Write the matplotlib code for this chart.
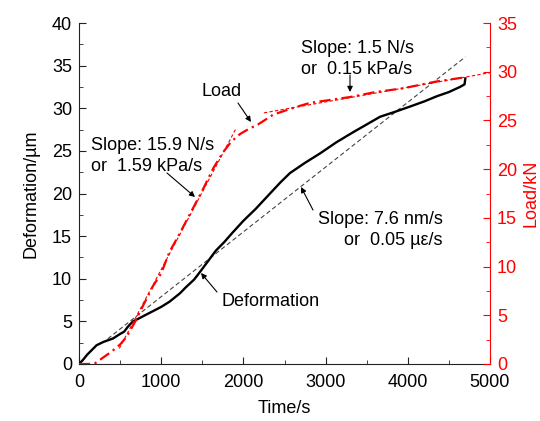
import matplotlib
matplotlib.use("Agg")
import matplotlib.pyplot as plt
import numpy as np
from matplotlib.ticker import MultipleLocator

plt.rcParams['font.family'] = ['Liberation Sans', 'DejaVu Sans']
plt.rcParams['font.size'] = 13

# Deformation (µm) vs time (s)
def_t = [0, 50, 100, 214, 300, 415, 496, 550, 597, 657, 720, 819, 900, 1000, 1100,
         1229, 1300, 1400, 1472, 1565, 1665, 1767, 1867, 2000, 2150, 2324, 2450,
         2567, 2750, 2932, 3130, 3337, 3500, 3662, 3850, 4027, 4200, 4351, 4500,
         4635, 4690, 4700]
def_v = [0, 0.5, 1.1, 2.2, 2.6, 3.0, 3.5, 3.8, 4.4, 5.0, 5.3, 5.8, 6.2, 6.7, 7.3,
         8.3, 9.0, 9.9, 10.8, 12.0, 13.3, 14.3, 15.4, 16.8, 18.2, 20.0, 21.3,
         22.4, 23.6, 24.7, 26.0, 27.2, 28.1, 29.0, 29.6, 30.2, 30.8, 31.4, 31.9,
         32.5, 32.8, 33.5]

# Load (kN) vs time (s)
load_t = [0, 120, 200, 300, 400, 500, 580, 620, 680, 780, 900, 1000, 1100, 1200,
          1300, 1400, 1500, 1634, 1750, 1850, 1958, 2080, 2162, 2364, 2648, 2810,
          3297, 3600, 3945, 4351, 4675]
load_v = [0, 0, 0.1, 0.7, 1.3, 2.0, 2.8, 3.4, 4.3, 6.0, 8.0, 9.3, 11.5, 13.0,
          14.6, 16.2, 17.8, 20.1, 21.7, 22.8, 23.6, 24.2, 24.5, 25.6, 26.4, 26.8,
          27.4, 27.9, 28.3, 29.0, 29.4]

# Linear fits
def_fit_t = [350, 4700]
def_fit_slope, def_fit_b = 0.0076, 0.3
load_fit1_t = [490, 1910]
load_fit1_slope, load_fit1_b = 0.0159, -6.2
load_fit2_t = [2250, 5000]
load_fit2_slope, load_fit2_b = 0.0015, 22.4

fig = plt.figure(figsize=(5.4, 4.21), dpi=100)
ax = fig.add_axes([79/540, 1-364/421, (490-79)/540, (364-23)/421])
ax2 = ax.twinx()

ax.plot(def_t, def_v, color='black', lw=1.7, zorder=3)
ft = np.array(def_fit_t)
ax.plot(ft, def_fit_slope*ft + def_fit_b, color='#444444', lw=0.8, dashes=(4, 2.5), zorder=2)

ax2.plot(load_t, load_v, color='red', lw=1.6, dashes=(5, 2, 1, 2), zorder=3)
f1 = np.array(load_fit1_t)
ax2.plot(f1, load_fit1_slope*f1 + load_fit1_b, color='red', lw=0.8, dashes=(3, 2))
f2 = np.array(load_fit2_t)
ax2.plot(f2, load_fit2_slope*f2 + load_fit2_b, color='red', lw=0.8, dashes=(3, 2))

ax.set_xlim(0, 5000)
ax.set_ylim(0, 40)
ax2.set_ylim(0, 35)
ax.xaxis.set_major_locator(MultipleLocator(1000))
ax.xaxis.set_minor_locator(MultipleLocator(500))
ax.yaxis.set_major_locator(MultipleLocator(5))
ax.yaxis.set_minor_locator(MultipleLocator(2.5))
ax2.yaxis.set_major_locator(MultipleLocator(5))
ax2.yaxis.set_minor_locator(MultipleLocator(2.5))

for a in (ax, ax2):
    a.spines['top'].set_visible(False)
ax.spines['right'].set_visible(False)
ax.spines['left'].set_color('#222222')
ax.spines['bottom'].set_color('#222222')
ax2.spines['left'].set_visible(False)
ax2.spines['bottom'].set_visible(False)
ax2.spines['right'].set_color('red')

ax.tick_params(which='both', direction='in', color='#222222', labelsize=13)
ax.tick_params(which='major', length=5)
ax.tick_params(which='minor', length=3)
ax.tick_params(axis='x', which='major', pad=7)
ax.tick_params(axis='y', which='major', pad=5)
ax2.tick_params(which='both', direction='in', color='red', labelcolor='red', labelsize=13)
ax2.tick_params(which='major', length=5, pad=5)
ax2.tick_params(which='minor', length=3)

ax.set_xlabel('Time/s', fontsize=13, labelpad=7)
ax.set_ylabel('Deformation/µm', fontsize=13, labelpad=9)
ax2.set_ylabel('Load/kN', fontsize=13, color='red', labelpad=4)

def px(x, y):
    # convert figure pixel (from top-left) to figure fraction
    return (x/540, 1 - y/421)

arrowprops = dict(arrowstyle='-|>', color='black', lw=0.8, mutation_scale=8,
                  shrinkA=0, shrinkB=0)

def arrow(tail, head):
    ax.annotate('', xy=px(*head), xycoords='figure fraction',
                xytext=px(*tail), textcoords='figure fraction', arrowprops=arrowprops)

def label(x, y, s, ha='left'):
    fig.text(*px(x, y), s, ha=ha, va='center', fontsize=13, linespacing=1.35,
             multialignment=ha)

label(222, 92, 'Load', ha='center')
arrow((238, 103), (251, 122))
label(91, 156, 'Slope: 15.9 N/s\nor  1.59 kPa/s')
arrow((167, 173), (195, 197))
label(301, 59, 'Slope: 1.5 N/s\nor  0.15 kPa/s')
arrow((350, 75), (350, 92))
label(443, 230, 'Slope: 7.6 nm/s\nor  0.05 µε/s', ha='right')
arrow((313, 210), (301, 187))
label(271, 302, 'Deformation', ha='center')
arrow((217, 292), (201, 273))

fig.savefig('out.png', dpi=100)
